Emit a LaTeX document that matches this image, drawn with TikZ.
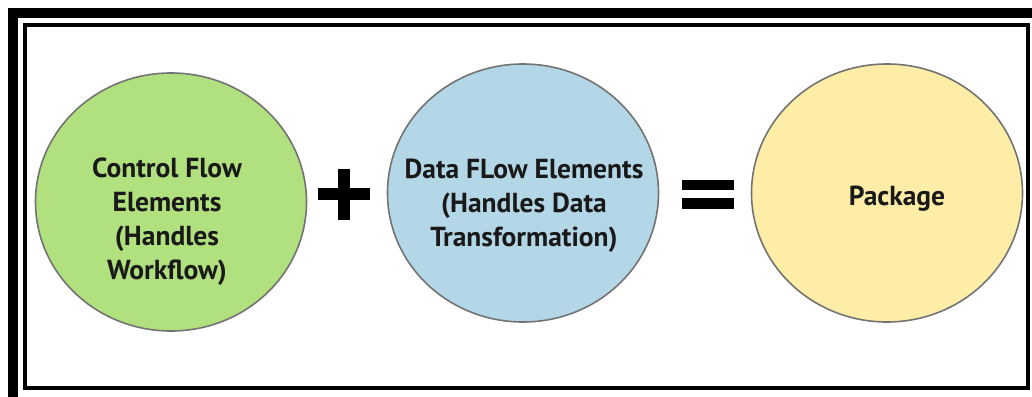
\documentclass[tikz,border=0pt]{standalone}
\usepackage{fontspec}
\setmainfont{PT Sans}
\usetikzlibrary{shapes.geometric,positioning}
\definecolor{cfgreen}{HTML}{B1E07E}
\definecolor{dfblue}{HTML}{B3D7E6}
\definecolor{pkyellow}{HTML}{FDEDA6}
\begin{document}
\begin{tikzpicture}[x=1pt, y=-1pt,
		C/.style = {ellipse, draw=black!55,% the three round blobs
			line width=1.6pt, minimum width=271pt, minimum height=258pt,
			inner sep=0pt},
		T/.style = {font=\fontsize{27.5}{34}\selectfont\bfseries,
			align=center, text=black!90},
		]
		\useasboundingbox (0,0) rectangle (1032,396);
		% frame
		\draw[line width=10pt] (13,13) rectangle (1042,402);
		\draw[line width=3.5pt] (25,25) rectangle (1028,388);
		% blobs
		\node[C, fill=cfgreen] (cf) at (171,202) {};
		\node[C, fill=dfblue] (df) at (523,193) {};
		\node[C, fill=pkyellow] (pk) at (887,193) {};
		\node[T] (cftext) at (167,222) {Control Flow\\Elements\\(Handles\\Workflow)};
		\node[T] (dftext) at (524,206) {Data FLow Elements\\(Handles Data\\Transformation)};
		\node[T] (pktext) at (897,199) {Package};
		% plus and equals
		\draw[line width=12pt] (318,194) -- (370,194) (344,169) -- (344,220);
		\fill (682,180) rectangle (734,190);
		\fill (682,198) rectangle (734,209);
	\end{tikzpicture}
\end{document}
